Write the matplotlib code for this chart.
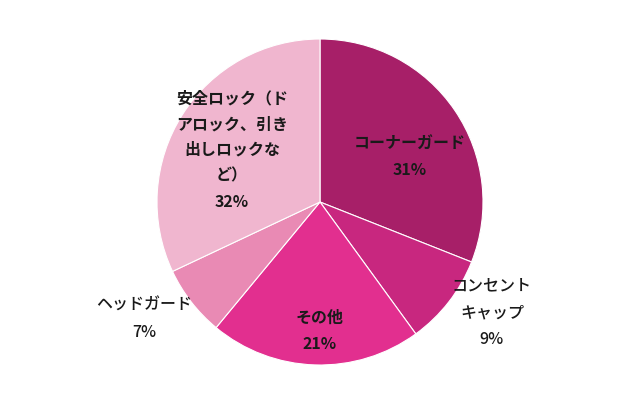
import matplotlib.pyplot as plt

plt.rcParams['font.family'] = ['Noto Sans CJK JP', 'DejaVu Sans']

labels = ['コーナーガード', 'コンセント\nキャップ', 'その他', 'ヘッドガード',
          '安全ロック（ド\nアロック、引き\n出しロックな\nど）']
values = [31, 9, 21, 7, 32]
colors = ['#A71F68', '#C8277F', '#E22F8F', '#E98AB4', '#F0B6CF']

# label anchor points (pie radius = 1) and weights
label_xy = [(0.552, 0.276), (1.055, -0.681), (0.0, -0.79), (-1.08, -0.718), (-0.54, 0.319)]
label_weight = ['bold', 'medium', 'bold', 'medium', 'bold']

fig = plt.figure(figsize=(6.4, 4.03), dpi=100)
ax = fig.add_axes([(320 - 163) / 640, (403 - 365) / 403, 326 / 640, 326 / 403])
wedges, _ = ax.pie(values, colors=colors, startangle=90, counterclock=False,
                   wedgeprops=dict(edgecolor='white', linewidth=0.8))
ax.set_xlim(-1, 1)
ax.set_ylim(-1, 1)
ax.set_aspect('equal')
ax.axis('off')

for lab, v, (x, y), fw in zip(labels, values, label_xy, label_weight):
    ax.text(x, y, f'{lab}\n{v}%', ha='center', va='center', fontsize=11.5,
            fontweight=fw, linespacing=1.75, color='#1a1a1a', clip_on=False)

fig.savefig('out.png', dpi=100)
